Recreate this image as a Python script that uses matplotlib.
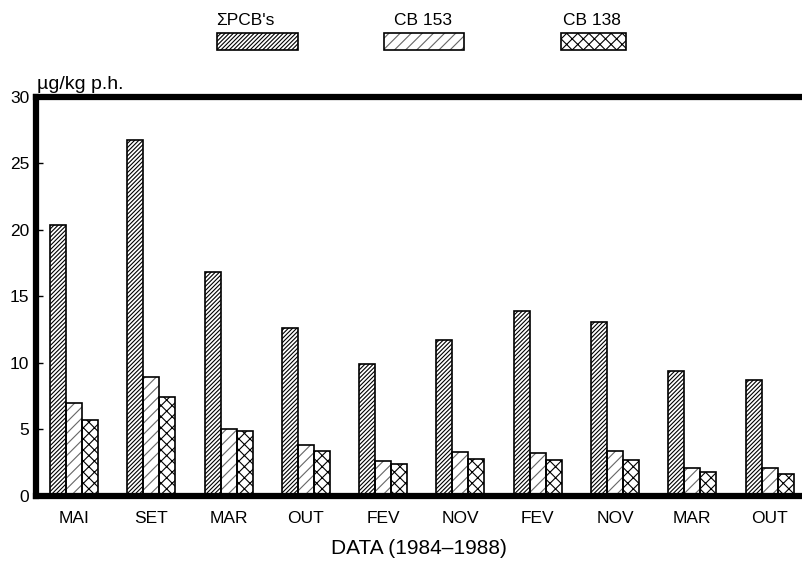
import matplotlib
matplotlib.use("Agg")
import matplotlib.pyplot as plt
import numpy as np
from matplotlib.patches import Rectangle

plt.rcParams['font.family'] = ['Liberation Sans', 'DejaVu Sans']
plt.rcParams['hatch.linewidth'] = 0.8

categories = ["MAI", "SET", "MAR", "OUT", "FEV", "NOV", "FEV", "NOV", "MAR", "OUT"]
series_names = ["\u03a3PCB's", "CB 153", "CB 138"]
pcb_total = [20.4, 26.8, 16.8, 12.6, 9.9, 11.7, 13.9, 13.1, 9.4, 8.7]
cb153 = [7.0, 8.9, 5.0, 3.8, 2.6, 3.3, 3.2, 3.4, 2.1, 2.1]
cb138 = [5.7, 7.4, 4.9, 3.4, 2.4, 2.8, 2.7, 2.7, 1.8, 1.6]
yticks = [0, 5, 10, 15, 20, 25, 30]

fig = plt.figure(figsize=(8.02, 5.64), dpi=100)
ax = fig.add_axes([0.045, 0.121, 0.955, 0.707])

x = np.arange(len(categories))
w = 0.207
hatches = ['////////', '///', 'xxx']
hcols = ['black', '#666666', 'black']
for i, (vals, h, hc) in enumerate(zip([pcb_total, cb153, cb138], hatches, hcols)):
    pos = x + (i - 1) * w
    ax.bar(pos, vals, width=w, color='white', edgecolor=hc, hatch=h, linewidth=0, zorder=2)
    ax.bar(pos, vals, width=w, fill=False, edgecolor='black', linewidth=1.2, zorder=3)

ax.set_xlim(-0.49, 9.42)
ax.set_ylim(0, 30)
ax.set_yticks(yticks)
ax.set_yticklabels([str(t) for t in yticks], fontsize=12.5)
ax.set_xticks(x)
ax.set_xticklabels(categories, fontsize=12.5)
ax.tick_params(axis='y', direction='in', length=5, width=1, pad=5)
ax.tick_params(axis='x', length=0, pad=11)
for s in ['left', 'top', 'bottom']:
    ax.spines[s].set_linewidth(4.5)
    ax.spines[s].set_zorder(5)
ax.spines['right'].set_visible(False)

ax.set_xlabel("DATA (1984\u20131988)", fontsize=15, labelpad=9)
fig.text(0.046, 0.835, "\u00b5g/kg p.h.", fontsize=14, ha='left', va='bottom')

# legend: labels above boxes
leg_x = [0.270, 0.479, 0.700]
leg_w = [0.101, 0.100, 0.081]
leg_tx = [0.270, 0.491, 0.702]
for lx, lw_, tx, h, hc, name in zip(leg_x, leg_w, leg_tx, hatches, hcols, series_names):
    r = Rectangle((lx, 0.912), lw_, 0.030, transform=fig.transFigure,
                  facecolor='white', edgecolor=hc, hatch=h, linewidth=0)
    fig.add_artist(r)
    r2 = Rectangle((lx, 0.912), lw_, 0.030, transform=fig.transFigure,
                   fill=False, edgecolor='black', linewidth=1.2)
    fig.add_artist(r2)
    fig.text(tx, 0.951, name, fontsize=12.5, ha='left', va='bottom')

fig.savefig("out.png", dpi=100)
